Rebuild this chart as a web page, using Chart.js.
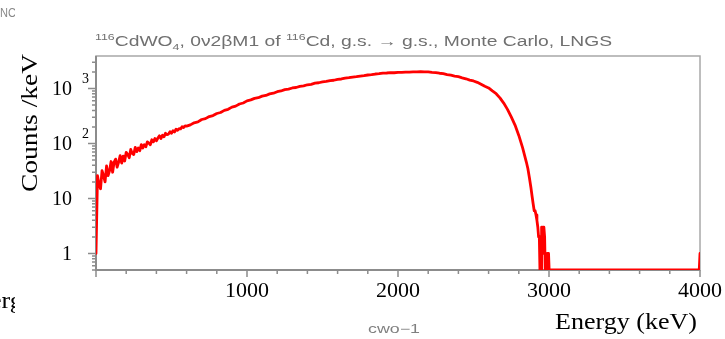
<!DOCTYPE html>
<html>
<head>
<meta charset="utf-8">
<script src="https://cdn.jsdelivr.net/npm/chart.js@4.4.1/dist/chart.umd.min.js"></script>
<style>
    html, body { margin: 0; padding: 0; background: #fff; }
    #wrap { width: 725px; height: 339px; }
</style>
</head>
<body>
<div id="wrap"><canvas id="spectrum" width="725" height="339"></canvas></div>
<script>
// 116CdWO4, 0v2b M1 of 116Cd (g.s. -> g.s.), Monte Carlo spectrum, counts per keV

// low-energy part: 10 keV bins starting at 0 keV
const lowStart = 0;
const lowStep = 10;
const lowCounts = [
    1, 26, 18, 15, 32, 26, 20, 39, 26, 32,
    47, 30, 46, 52, 37, 46, 60, 44, 59, 48,
    69, 63, 55, 78, 66, 63, 85, 71, 83, 74,
    95, 83, 95, 87, 107, 102, 95, 117, 107, 123,
    112, 126, 138, 123, 141, 132, 153, 145, 148, 164,
    153, 170, 162, 182, 174, 186, 184, 202, 195, 209
];

// main body: 25 keV bins from 600 keV
const midStart = 600;
const midStep = 25;
const midCounts = [
    207, 218, 238, 247, 273, 283, 309, 322, 351, 366,
    400, 418, 458, 478, 522, 545, 595, 620, 661, 679,
    726, 747, 797, 821, 874, 902, 953, 972, 1022, 1043,
    1092, 1115, 1169, 1191, 1250, 1272, 1319, 1342, 1390, 1412,
    1466, 1489, 1541, 1571, 1617, 1638, 1685, 1712, 1760, 1785,
    1834, 1860, 1911, 1913, 1938, 1935, 1960, 1962, 1988, 1990,
    2010, 2003, 2024, 2008, 2001, 1962, 1942, 1895, 1860, 1789,
    1744, 1681, 1639, 1564, 1502, 1423, 1370, 1295, 1196, 1097,
    1023, 902, 804, 676, 543, 417, 304, 216, 140, 84,
    46
];

// end point region and empty range up to 4000 keV
const tailEnergy = [2860, 2870, 2880, 2888, 2895, 2902, 2908, 2914, 2920, 2926,
                    2931, 2936, 2940, 2944, 2948, 2951, 2956, 2960, 2966, 2971,
                    2975, 2979, 2984, 2988, 2993, 2997, 3001, 3995, 4000];
const tailCounts = [35, 24, 16, 11, 8, 6, 6, 5, 4, 3,
                    2, 2, 0, 1, 0, 3, 1, 3, 3, 2,
                    0, 1, 0, 1, 0, 1, 0, 0, 1];

const xTickValues = [1000, 2000, 3000, 4000];
const yTickValues = [1, 10, 100, 1000];
const yMin = 0.5;
const yMax = 3900;

const serif = "'Liberation Serif', 'Times New Roman', serif";
const sans = "'Liberation Sans', Helvetica, Arial, sans-serif";

// empty bins sit on the axis floor, as in a ROOT histogram on a log pad
const toPoint = (x, c) => ({ x: x, y: c > 0 ? c : yMin });
const points = [
    ...lowCounts.map((c, i) => toPoint(lowStart + i * lowStep, c)),
    ...midCounts.map((c, i) => toPoint(midStart + i * midStep, c)),
    ...tailCounts.map((c, i) => toPoint(tailEnergy[i], c))
];

// text squeezed/stretched horizontally to a given width
function fitText(ctx, text, x, y, font, width) {
    ctx.font = font;
    const sx = width / ctx.measureText(text).width;
    ctx.save();
    ctx.translate(x, y);
    ctx.scale(sx, 1);
    ctx.fillText(text, 0, 0);
    ctx.restore();
}

// text with super/subscripts
function richText(ctx, parts, x, y, size, family, width) {
    const fontFor = p => (p.s ? Math.round(size * 0.65) : size) + 'px ' + family;
    let total = 0;
    parts.forEach(p => {
        ctx.font = fontFor(p);
        p.w = ctx.measureText(p.t).width;
        total += p.w;
    });
    ctx.save();
    ctx.translate(x, y);
    ctx.scale(width / total, 1);
    let cx = 0;
    parts.forEach(p => {
        ctx.font = fontFor(p);
        const dy = p.s === 'sup' ? -size * 0.4 : (p.s === 'sub' ? size * 0.25 : 0);
        ctx.fillText(p.t, cx, dy);
        cx += p.w;
    });
    ctx.restore();
}

const rootStyle = {
    id: 'rootStyle',
    beforeDatasetsDraw(chart) {
        const { ctx, chartArea: a, scales: { x, y } } = chart;
        ctx.save();
        // frame
        ctx.strokeStyle = '#a8a8a8';
        ctx.lineWidth = 1.5;
        ctx.strokeRect(a.left, a.top, a.right - a.left, a.bottom - a.top);
        ctx.strokeStyle = '#8c8c8c';
        ctx.lineWidth = 2;
        ctx.beginPath();
        ctx.moveTo(a.left, a.top);
        ctx.lineTo(a.left, a.bottom);
        ctx.lineTo(a.right, a.bottom);
        ctx.stroke();
        // tick marks, outside the frame
        ctx.lineWidth = 1.5;
        ctx.beginPath();
        for (let v = x.min; v <= x.max; v += 200) {
            const px = x.getPixelForValue(v);
            const len = v % 1000 === 0 ? 7 : 4;
            ctx.moveTo(px, a.bottom);
            ctx.lineTo(px, a.bottom + len);
        }
        for (let d = 0.1; d <= 1000; d *= 10) {
            for (let k = 1; k <= 9; k++) {
                const v = k * d;
                if (v < y.min || v > y.max) continue;
                const py = y.getPixelForValue(v);
                const len = k === 1 ? 8 : 4;
                ctx.moveTo(a.left - len, py);
                ctx.lineTo(a.left, py);
            }
        }
        ctx.stroke();
        ctx.restore();
    },
    afterDraw(chart) {
        const { ctx, scales: { y } } = chart;
        ctx.save();
        ctx.fillStyle = '#000';
        ctx.textBaseline = 'alphabetic';

        // y tick labels as powers of ten
        yTickValues.forEach(v => {
            const py = y.getPixelForValue(v);
            const exp = Math.round(Math.log10(v));
            ctx.font = '20px ' + serif;
            ctx.textAlign = 'right';
            ctx.fillText(exp <= 1 ? String(v) : '10', 72, py + 7);
            if (exp > 1) {
                ctx.font = '14px ' + serif;
                ctx.textAlign = 'left';
                ctx.fillText(String(exp), 82, py - 5);
            }
        });
        ctx.textAlign = 'left';

        // axis titles
        ctx.save();
        ctx.translate(37, 192);
        ctx.rotate(-Math.PI / 2);
        fitText(ctx, 'Counts /keV', 0, 0, '24px ' + serif, 138);
        ctx.restore();
        fitText(ctx, 'Energy (keV)', 555, 329, '24px ' + serif, 142);

        // neighbouring pad, cut at the left border
        ctx.save();
        ctx.beginPath();
        ctx.rect(0, 0, 15, 339);
        ctx.clip();
        fitText(ctx, 'Energy (keV)', -39, 308, '24px ' + serif, 142);
        ctx.fillStyle = '#888';
        fitText(ctx, 'NC', 0, 17, '12px ' + sans, 16);
        ctx.restore();

        // plot title and canvas name
        ctx.fillStyle = '#707070';
        richText(ctx, [
            { t: '116', s: 'sup' }, { t: 'CdWO' }, { t: '4', s: 'sub' },
            { t: ', 0\u03bd2\u03b2M1 of ' }, { t: '116', s: 'sup' },
            { t: 'Cd, g.s. \u2192 g.s., Monte Carlo, LNGS' }
        ], 95, 46, 14, sans, 517);
        ctx.fillStyle = '#808080';
        fitText(ctx, 'cwo\u22121', 368, 333, '12px ' + sans, 52);
        ctx.restore();
    }
};

new Chart(document.getElementById('spectrum'), {
    type: 'line',
    data: {
        datasets: [{
            data: points,
            borderColor: '#ff0000',
            borderWidth: 2.8,
            borderJoinStyle: 'round',
            borderCapStyle: 'round',
            pointRadius: 0,
            fill: false
        }]
    },
    options: {
        responsive: false,
        animation: false,
        events: [],
        layout: { padding: { top: 56, right: 25, left: 0, bottom: 0 } },
        plugins: {
            legend: { display: false },
            tooltip: { enabled: false }
        },
        scales: {
            x: {
                type: 'linear',
                min: 0,
                max: 4000,
                grid: { display: false, drawTicks: false },
                border: { display: false },
                afterBuildTicks: s => { s.ticks = xTickValues.map(v => ({ value: v })); },
                afterFit: s => { s.height = 69; s.paddingLeft = 0; s.paddingRight = 0; },
                ticks: {
                    autoSkip: false,
                    maxRotation: 0,
                    padding: 8,
                    color: '#000',
                    font: { family: serif, size: 22 },
                    callback: v => String(v)
                }
            },
            y: {
                type: 'logarithmic',
                min: yMin,
                max: yMax,
                grid: { display: false },
                border: { display: false },
                ticks: { display: false },
                afterBuildTicks: s => { s.ticks = yTickValues.map(v => ({ value: v })); },
                afterFit: s => { s.width = 96; }
            }
        }
    },
    plugins: [rootStyle]
});
</script>
</body>
</html>
